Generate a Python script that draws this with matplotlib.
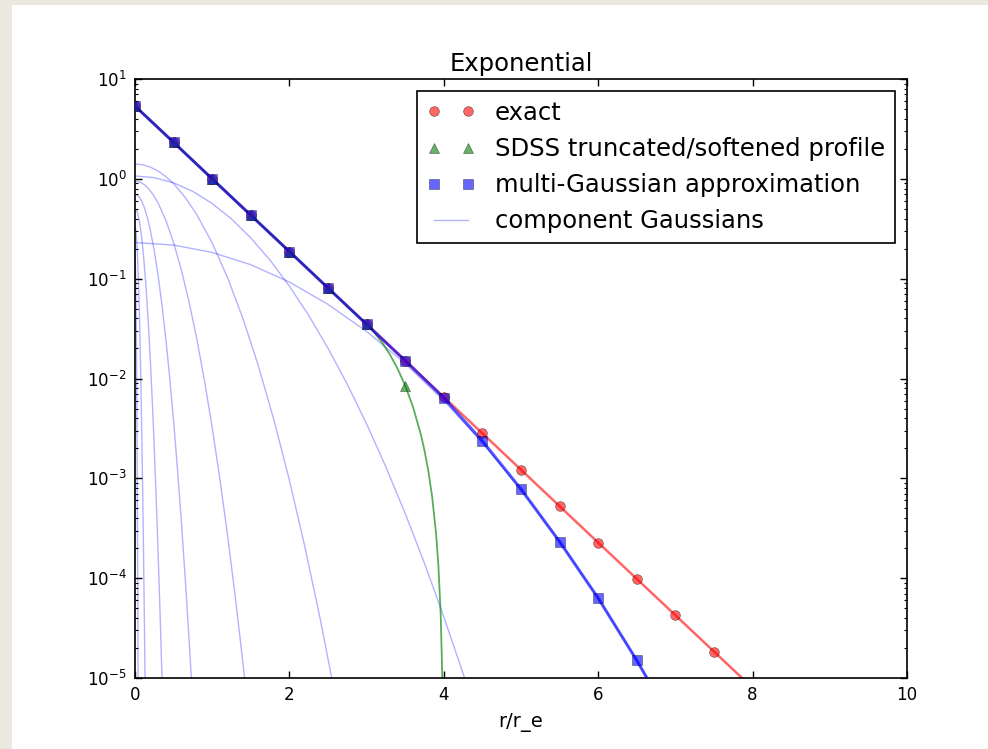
import numpy as np
import matplotlib
matplotlib.use('Agg')
import matplotlib.pyplot as plt
from matplotlib.patches import Rectangle
from matplotlib.ticker import FixedLocator, NullFormatter

# --- values ---

# exact exponential profile
exact_r = [0.0, 0.5, 1.0, 1.5, 2.0, 2.5, 3.0, 3.5, 4.0, 4.5, 5.0, 5.5, 6.0, 6.5, 7.0, 7.5, 8.0]
exact_y = [5.36, 2.32, 1.0, 0.432, 0.187, 0.0807, 0.0349, 0.0151, 0.00651, 0.00282,
           0.00122, 0.000526, 0.000227, 9.83e-5, 4.25e-5, 1.84e-5, 7.94e-6]
n_exact_markers = 16

# SDSS truncated/softened profile
sdss_r = [0.0, 0.5, 1.0, 1.5, 2.0, 2.5, 3.0, 3.1, 3.2, 3.3, 3.4, 3.5, 3.6, 3.7, 3.75,
          3.8, 3.85, 3.9, 3.93, 3.96, 3.98, 3.99, 3.997]
sdss_y = [5.36, 2.32, 1.0, 0.432, 0.187, 0.0807, 0.0349, 0.0289, 0.0230, 0.0175, 0.0126,
          0.0085, 5.22e-3, 2.80e-3, 1.90e-3, 1.18e-3, 6.45e-4, 2.78e-4, 1.34e-4, 4.28e-5,
          1.06e-5, 2.6e-6, 2.4e-7]
sdss_marker_r = [0.0, 0.5, 1.0, 1.5, 2.0, 2.5, 3.0, 3.5]
sdss_marker_y = [5.36, 2.32, 1.0, 0.432, 0.187, 0.0807, 0.0349, 0.0085]

# multi-Gaussian approximation
mog_r = [0.0, 0.5, 1.0, 1.5, 2.0, 2.5, 3.0, 3.5, 4.0, 4.5, 5.0, 5.5, 6.0, 6.5, 7.0]
mog_y = [5.36, 2.32, 1.0, 0.432, 0.187, 0.0807, 0.0349, 0.0151, 0.0064, 0.00236,
         0.00078, 0.000232, 6.3e-5, 1.5e-5, 3.2e-6]
n_mog_markers = 14

# component Gaussians (each a list of radii and a list of heights)
comp1_r = [0.0, 0.5, 1.0, 1.5, 2.0, 2.5, 3.0, 3.5, 4.0, 4.5, 5.0, 5.5, 6.0, 6.5, 7.0]
comp1_y = [0.230, 0.217, 0.183, 0.138, 0.0925, 0.0553, 0.0296, 0.0141, 6.0e-3, 2.28e-3,
           7.7e-4, 2.33e-4, 6.3e-5, 1.51e-5, 3.2e-6]
comp2_r = [0.0, 0.25, 0.5, 0.75, 1.0, 1.25, 1.5, 1.75, 2.0, 2.25, 2.5, 2.75, 3.0, 3.25,
           3.5, 3.75, 4.0, 4.25, 4.5]
comp2_y = [1.069, 1.027, 0.912, 0.748, 0.566, 0.396, 0.256, 0.153, 0.0841, 0.0429, 0.0201,
           8.75e-3, 3.51e-3, 1.30e-3, 4.45e-4, 1.41e-4, 4.10e-5, 1.11e-5, 2.75e-6]
comp3_r = [0.0, 0.1, 0.2, 0.3, 0.4, 0.5, 0.65, 0.8, 1.0, 1.2, 1.4, 1.6, 1.8, 2.0, 2.2, 2.4, 2.6]
comp3_y = [1.409, 1.384, 1.310, 1.196, 1.053, 0.893, 0.652, 0.4386, 0.2275, 0.1020, 0.0395,
           0.01323, 3.83e-3, 9.58e-4, 2.07e-4, 3.87e-5, 6.24e-6]
comp4_r = [0.0, 0.06, 0.12, 0.18, 0.24, 0.3, 0.4, 0.5, 0.6, 0.7, 0.8, 0.9, 1.0, 1.1, 1.2,
           1.3, 1.4, 1.5]
comp4_y = [0.951, 0.931, 0.876, 0.791, 0.685, 0.570, 0.383, 0.2294, 0.1228, 0.0586, 0.0250,
           9.51e-3, 3.23e-3, 9.78e-4, 2.65e-4, 6.39e-5, 1.38e-5, 2.65e-6]
comp5_r = [0.0, 0.03, 0.06, 0.09, 0.12, 0.16, 0.2, 0.25, 0.3, 0.35, 0.4, 0.45, 0.5, 0.55,
           0.6, 0.65, 0.7, 0.75]
comp5_y = [0.700, 0.687, 0.649, 0.591, 0.518, 0.4095, 0.303, 0.189, 0.1064, 0.0539, 0.0246,
           0.0101, 3.74e-3, 1.245e-3, 3.74e-4, 1.01e-4, 2.46e-5, 5.4e-6]
comp6_r = [0.0, 0.015, 0.03, 0.05, 0.07, 0.09, 0.11, 0.14, 0.17, 0.2, 0.23, 0.26, 0.29,
           0.32, 0.35, 0.38]
comp6_y = [0.500, 0.490, 0.462, 0.401, 0.324, 0.2443, 0.1715, 0.0884, 0.0388, 0.01456,
           4.65e-3, 1.268e-3, 2.95e-4, 5.85e-5, 9.9e-6, 1.43e-6]
comp7_r = [0.0, 0.01, 0.02, 0.03, 0.045, 0.06, 0.075, 0.09, 0.105, 0.12, 0.135]
comp7_y = [0.330, 0.3106, 0.2584, 0.190, 0.0951, 0.0361, 0.0104, 2.27e-3, 3.76e-4,
           4.72e-5, 4.5e-6]
comp8_r = [0.0, 0.005, 0.01, 0.015, 0.02, 0.025, 0.03, 0.035, 0.04, 0.045]
comp8_y = [0.170, 0.1459, 0.0924, 0.0432, 0.01488, 3.78e-3, 7.09e-4, 9.8e-5, 1.0e-5, 7.5e-7]

components = [(comp1_r, comp1_y), (comp2_r, comp2_y), (comp3_r, comp3_y), (comp4_r, comp4_y),
              (comp5_r, comp5_y), (comp6_r, comp6_y), (comp7_r, comp7_y), (comp8_r, comp8_y)]

x_ticks = [0, 2, 4, 6, 8, 10]
y_ticks = [1e-5, 1e-4, 1e-3, 1e-2, 1e-1, 1e0, 1e1]

# --- figure ---
plt.rcParams['font.family'] = 'DejaVu Sans'
plt.rcParams['mathtext.fontset'] = 'dejavusans'

W, H = 988, 749
fig = plt.figure(figsize=(W / 100, H / 100), dpi=100, facecolor='#ebe8df')
# white page area (reference has a beige strip on the left and top)
fig.add_artist(Rectangle((12 / W, 0), 1, 1 - 5 / H, transform=fig.transFigure,
                         facecolor='white', edgecolor='none', zorder=-1))

ax = fig.add_axes([135 / W, 1 - 678 / H, (907 - 135) / W, (678 - 79) / H])

comp_handle = None
for cr, cy in components:
    ln, = ax.plot(cr, cy, color='b', alpha=0.3, lw=1.0, zorder=1)
    if comp_handle is None:
        comp_handle = ln

ax.plot(exact_r, exact_y, color='r', alpha=0.6, lw=1.8, zorder=2)
ax.plot(sdss_r, sdss_y, color='g', alpha=0.65, lw=1.3, zorder=2)
ax.plot(mog_r, mog_y, color='b', alpha=0.65, lw=2.2, zorder=3)

h_exact, = ax.plot(exact_r[:n_exact_markers], exact_y[:n_exact_markers], 'o', color='r',
                   alpha=0.6, ms=7, mec='k', mew=0.4, zorder=4)
h_sdss, = ax.plot(sdss_marker_r, sdss_marker_y, '^', color='g', alpha=0.6, ms=7,
                  mec='k', mew=0.4, zorder=4)
h_mog, = ax.plot(mog_r[:n_mog_markers], mog_y[:n_mog_markers], 's', color='b', alpha=0.6,
                 ms=7.5, mec='k', mew=0.4, zorder=5)

ax.set_yscale('log')
ax.set_xlim(0, 10)
ax.set_ylim(1e-5, 10)
ax.set_xticks(x_ticks)
ax.set_yticks(y_ticks)
minor = [m * d for d in y_ticks[:-1] for m in range(2, 10)]
ax.yaxis.set_minor_locator(FixedLocator(minor))
ax.yaxis.set_minor_formatter(NullFormatter())

ax.tick_params(which='both', direction='in', top=True, right=True, labelsize=12, pad=6)
ax.tick_params(which='major', length=5, width=1)
ax.tick_params(which='minor', length=2.5, width=0.8)
for s in ax.spines.values():
    s.set_linewidth(1.2)

ax.set_title('Exponential', fontsize=17.5, pad=6)
ax.set_xlabel('r/r_e', fontsize=14, labelpad=6)

leg = ax.legend([h_exact, h_sdss, h_mog, comp_handle],
                ['exact', 'SDSS truncated/softened profile', 'multi-Gaussian approximation',
                 'component Gaussians'],
                loc='upper right', numpoints=2, fontsize=17.5, fancybox=False,
                framealpha=1, edgecolor='k', borderpad=0.4, labelspacing=0.5,
                handlelength=2, handletextpad=0.8, borderaxespad=0.5)
leg.get_frame().set_linewidth(1.2)

fig.savefig('out.png', dpi=100, facecolor=fig.get_facecolor())
